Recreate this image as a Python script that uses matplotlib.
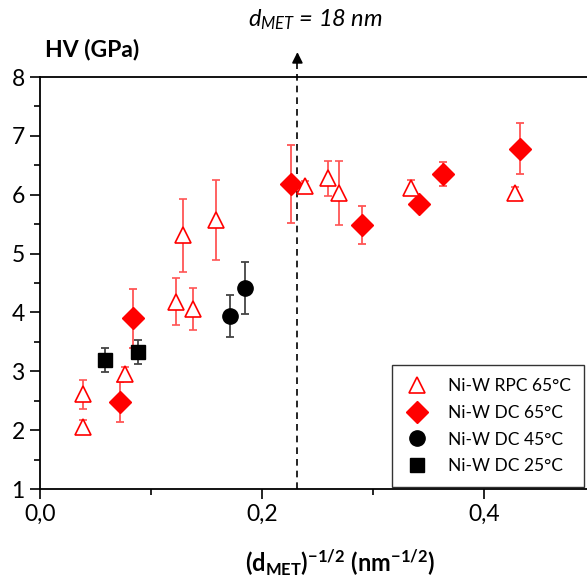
import matplotlib.pyplot as plt
from matplotlib.lines import Line2D

plt.rcParams['font.family'] = 'Lato'
plt.rcParams['mathtext.fontset'] = 'custom'
plt.rcParams['mathtext.rm'] = 'Lato'
plt.rcParams['mathtext.it'] = 'Lato:italic'
plt.rcParams['mathtext.bf'] = 'Lato:bold'

# Ni-W RPC 65°C (open triangles)
rpc65_x = [0.0385, 0.0385, 0.0766, 0.1225, 0.1288, 0.1375, 0.159, 0.239, 0.2598, 0.2694, 0.3348, 0.4285]
rpc65_y = [2.61, 2.05, 2.95, 4.18, 5.31, 4.06, 5.57, 6.15, 6.28, 6.03, 6.12, 6.03]
rpc65_err = [0.25, 0.12, 0.12, 0.40, 0.62, 0.36, 0.68, 0.08, 0.30, 0.54, 0.13, 0.10]

# Ni-W DC 65°C (diamonds)
dc65_x = [0.072, 0.0835, 0.2258, 0.2898, 0.3414, 0.3634, 0.4324]
dc65_y = [2.47, 3.90, 6.18, 5.48, 5.84, 6.35, 6.78]
dc65_err = [0.34, 0.50, 0.66, 0.32, 0.0, 0.20, 0.43]

# Ni-W DC 45°C (circles)
dc45_x = [0.1709, 0.1847]
dc45_y = [3.94, 4.41]
dc45_err = [0.35, 0.44]

# Ni-W DC 25°C (squares)
dc25_x = [0.0589, 0.088]
dc25_y = [3.19, 3.33]
dc25_err = [0.20, 0.20]

d_met_line = 0.232

xticks = [0.0, 0.2, 0.4]
xtick_labels = ['0,0', '0,2', '0,4']
yticks = [1, 2, 3, 4, 5, 6, 7, 8]

fig = plt.figure(figsize=(5.87, 5.80), dpi=100)
ax = fig.add_axes([40/587, 1-489/580, 1-40/587, (489-77)/580])

red = '#ff0000'
ax.errorbar(dc65_x, dc65_y, yerr=dc65_err, fmt='D', color=red, ms=11,
            ecolor='#ff5555', elinewidth=1.3, capsize=2.6, capthick=1.3, zorder=3)
ax.errorbar(rpc65_x, rpc65_y, yerr=rpc65_err, fmt='^', mfc='white', mec=red, mew=1.2,
            ms=12, ecolor='#ff5555', elinewidth=1.3, capsize=2.6, capthick=1.3, zorder=3)
ax.errorbar(dc45_x, dc45_y, yerr=dc45_err, fmt='o', color='black', ms=11,
            ecolor='#444444', elinewidth=1.3, capsize=2.6, capthick=1.3, zorder=3)
ax.errorbar(dc25_x, dc25_y, yerr=dc25_err, fmt='s', color='black', ms=10,
            ecolor='#444444', elinewidth=1.3, capsize=2.6, capthick=1.3, zorder=3)

ax.set_xlim(0, 0.493)
ax.set_ylim(1, 8)

# linea punteada con flecha (d_MET = 18 nm)
ax.plot([d_met_line, d_met_line], [1, 8.3], ls=(0, (4, 3)), color='black', lw=1.2, clip_on=False)
ax.annotate('', xy=(d_met_line, 8.47), xytext=(d_met_line, 8.25),
            arrowprops=dict(arrowstyle='-|>', color='black', lw=1.2, mutation_scale=16),
            annotation_clip=False)
ax.text(0.2486, 8.97, r'$d_{MET}$ = 18 nm', style='italic', fontsize=17,
        ha='center', va='center')

ax.set_xticks(xticks)
ax.set_xticklabels(xtick_labels)
ax.set_xticks([0.1, 0.3], minor=True)
ax.set_yticks(yticks)
ax.set_yticks([1.5, 2.5, 3.5, 4.5, 5.5, 6.5, 7.5], minor=True)
ax.tick_params(which='major', direction='out', length=7, width=1.2, labelsize=16.5, pad=4)
ax.tick_params(which='minor', direction='out', length=4, width=1.2)

ax.spines['right'].set_visible(False)
for s in ['left', 'bottom', 'top']:
    ax.spines[s].set_linewidth(1.3)

fig.text(45/587, 1-50/580, 'HV (GPa)', fontsize=16.5, fontweight='bold', ha='left', va='center')
fig.text(340/587, 1-563/580, r'$\mathbf{(d_{MET})^{-1/2}\ (nm^{-1/2})}$',
         fontsize=17, ha='center', va='center')

handles = [
    Line2D([], [], ls='none', marker='^', mfc='white', mec=red, mew=1.2, ms=12),
    Line2D([], [], ls='none', marker='D', color=red, ms=11),
    Line2D([], [], ls='none', marker='o', color='black', ms=11),
    Line2D([], [], ls='none', marker='s', color='black', ms=10),
]
labels = ['Ni-W RPC 65°C', 'Ni-W DC 65°C', 'Ni-W DC 45°C', 'Ni-W DC 25°C']
leg = ax.legend(handles, labels, loc='upper right', bbox_to_anchor=(584/587, 1-365/580),
                bbox_transform=fig.transFigure, borderaxespad=0, fancybox=False,
                edgecolor='black', fontsize=12.5, handlelength=1.4, labelspacing=0.62,
                borderpad=0.75, handletextpad=1.1)
leg.get_frame().set_linewidth(1.0)

fig.savefig('out.png', dpi=100)
